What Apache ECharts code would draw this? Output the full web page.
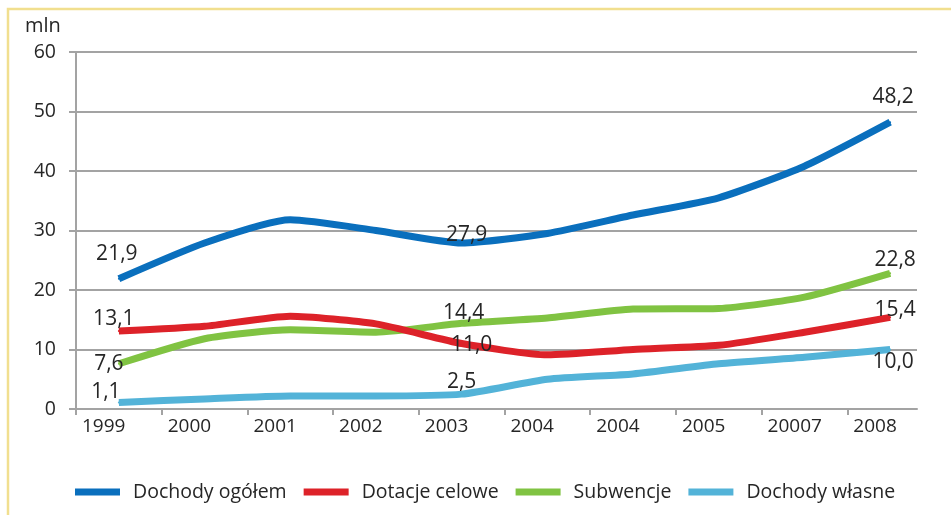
<!DOCTYPE html>
<html>
<head>
<meta charset="utf-8">
<script src="https://cdn.jsdelivr.net/npm/echarts@6/dist/echarts.min.js"></script>
<style>
html,body{margin:0;padding:0;background:#fff;}
#c{width:951px;height:515px;}
</style>
</head>
<body>
<div id="c"></div>
<script>
const categories = ['1999','2000','2001','2002','2003','2004','2004','2005','20007','2008'];
const dochodyOgolem = [21.9, 27.9, 31.8, 30.0, 27.9, 29.5, 32.6, 35.5, 40.8, 48.2];
const dotacjeCelowe = [13.1, 13.9, 15.6, 14.3, 11.0, 9.1, 10.0, 10.7, 12.9, 15.4];
const subwencje = [7.6, 11.8, 13.3, 12.9, 14.4, 15.3, 16.8, 16.9, 18.8, 22.8];
const dochodyWlasne = [1.1, 1.7, 2.2, 2.2, 2.5, 5.0, 5.9, 7.6, 8.7, 10.0];
const seriesNames = ['Dochody ogółem', 'Dotacje celowe', 'Subwencje', 'Dochody własne'];
const yTicks = [0, 10, 20, 30, 40, 50, 60];
const unitLabel = 'mln';

const colors = ['#0a6fbd', '#dd2229', '#80c342', '#53b3d8'];
// label offsets (px) relative to the point, for labelled indices
const labelOffsets = [
  {0: [-2, -25], 4: [5, -8], 9: [3, -25]},
  {0: [-5, -12], 4: [10, 1], 9: [5, -7]},
  {0: [-10, 0], 4: [2, -10], 9: [5, -13]},
  {0: [-13, -10], 4: [0, -12], 9: [3, 13]}
];
const fmt = v => v.toFixed(1).replace('.', ',');
const FONT = '"Open Sans", sans-serif';

function buildData(values, offs) {
  return values.map((v, i) => {
    const item = { value: [i + 0.5, v] };
    if (offs[i]) {
      item.label = {
        show: true, position: 'inside', offset: offs[i],
        formatter: fmt(v), fontSize: 21, color: '#262626', fontFamily: FONT
      };
    }
    return item;
  });
}

const allValues = [dochodyOgolem, dotacjeCelowe, subwencje, dochodyWlasne];
const chart = echarts.init(document.getElementById('c'), null, {renderer: 'canvas'});
const bandPx = 85.7, leftPx = 76, rightPx = 917;
const xMax = (rightPx - leftPx) / bandPx;

chart.setOption({
  animation: false,
  backgroundColor: '#fff',
  graphic: [{
    type: 'polyline', silent: true,
    shape: { points: [[8, 515], [8, 9], [951, 9]] },
    style: { stroke: '#f1df8f', lineWidth: 2.5, fill: null }
  }],
  title: {
    text: unitLabel, left: 20, top: 11,
    textStyle: { fontSize: 20, fontWeight: 'normal', color: '#262626', fontFamily: FONT }
  },
  grid: { left: leftPx, right: 951 - rightPx, top: 52, bottom: 515 - 409, containLabel: false },
  xAxis: {
    type: 'value', min: 0, max: xMax, interval: 1,
    splitLine: { show: false },
    axisLine: { show: true, lineStyle: { color: '#a3a3a3', width: 2 } },
    axisTick: { show: true, length: 6, lineStyle: { color: '#a3a3a3', width: 2 },
      customValues: categories.map((c, i) => i) },
    axisLabel: {
      customValues: categories.map((c, i) => i),
      formatter: v => categories[Math.round(v)] || '',
      align: 'left', padding: [0, 0, 0, 6], margin: 8,
      fontSize: 19, color: '#262626', fontFamily: FONT
    }
  },
  yAxis: {
    type: 'value', min: 0, max: 60, interval: 10,
    axisLine: { show: true, lineStyle: { color: '#a3a3a3', width: 2 } },
    axisTick: { show: true, length: 7, lineStyle: { color: '#a3a3a3', width: 2 } },
    splitLine: { show: true, lineStyle: { color: '#a3a3a3', width: 2 } },
    axisLabel: {
      margin: 20, fontSize: 19.5, color: '#262626', fontFamily: FONT,
      formatter: v => yTicks.includes(v) ? String(v) : ''
    }
  },
  legend: {
    left: 75, top: 482, icon: 'rect', itemWidth: 45, itemHeight: 7, itemGap: 17,
    padding: 0,
    textStyle: { fontSize: 19.5, color: '#262626', fontFamily: FONT, padding: [0, 0, 0, 8] },
    data: seriesNames
  },
  series: seriesNames.map((name, s) => ({
    name, type: 'line', smooth: 0.2,
    symbol: 'circle', symbolSize: 2, showSymbol: true,
    color: colors[s],
    itemStyle: { color: colors[s] },
    lineStyle: { width: 7, color: colors[s], cap: 'butt', join: 'round' },
    data: buildData(allValues[s], labelOffsets[s]),
    z: 10 - s
  }))
});
</script>
</body>
</html>
